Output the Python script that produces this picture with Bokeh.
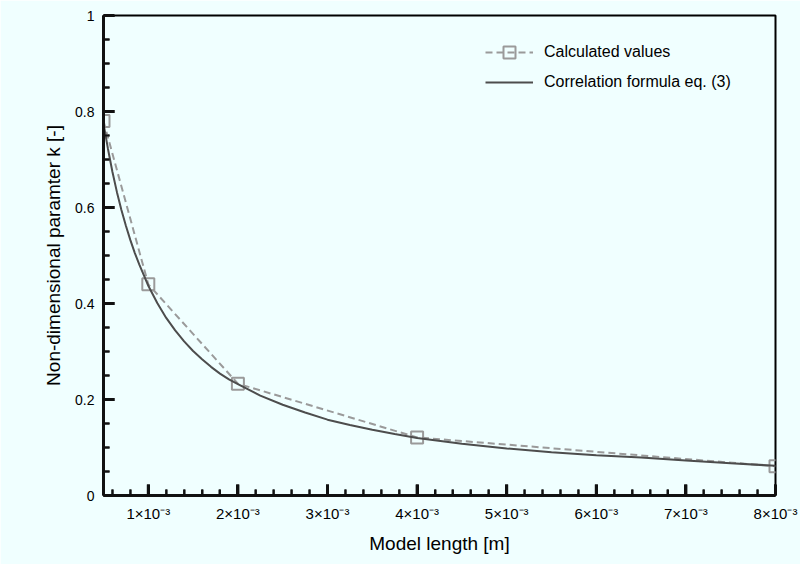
from bokeh.plotting import figure
from bokeh.models import Range1d, FixedTicker, Legend, LegendItem
from bokeh.embed import file_html
from bokeh.resources import INLINE

# Calculated values
calc_x = [0.5e-3, 1e-3, 2e-3, 4e-3, 8e-3]
calc_k = [0.78, 0.44, 0.233, 0.121, 0.061]

# Correlation formula eq. (3)
corr_x = [0.5e-3, 0.55e-3, 0.6e-3, 0.65e-3, 0.7e-3, 0.75e-3, 0.8e-3, 0.85e-3, 0.9e-3,
          0.95e-3, 1.0e-3, 1.1e-3, 1.2e-3, 1.3e-3, 1.4e-3, 1.5e-3, 1.6e-3, 1.7e-3,
          1.8e-3, 1.9e-3, 2.0e-3, 2.25e-3, 2.5e-3, 2.75e-3, 3.0e-3, 3.25e-3, 3.5e-3,
          3.75e-3, 4.0e-3, 4.5e-3, 5.0e-3, 5.5e-3, 6.0e-3, 6.5e-3, 7.0e-3, 7.5e-3, 8.0e-3]
corr_k = [0.775, 0.722, 0.674, 0.632, 0.595, 0.562, 0.532, 0.505, 0.481,
          0.459, 0.437, 0.401, 0.370, 0.344, 0.321, 0.301, 0.284, 0.268,
          0.254, 0.242, 0.232, 0.208, 0.189, 0.173, 0.158, 0.147, 0.137,
          0.128, 0.120, 0.108, 0.098, 0.090, 0.084, 0.079, 0.073, 0.067, 0.062]

x_ticks = [1e-3, 2e-3, 3e-3, 4e-3, 5e-3, 6e-3, 7e-3, 8e-3]
x_tick_labels = ["1×10⁻³", "2×10⁻³", "3×10⁻³", "4×10⁻³", "5×10⁻³", "6×10⁻³", "7×10⁻³", "8×10⁻³"]
x_minor = [i * 0.2e-3 for i in range(3, 40) if i % 5 != 0]
y_ticks = [0, 0.2, 0.4, 0.6, 0.8, 1.0]
y_tick_labels = ["0", "0.2", "0.4", "0.6", "0.8", "1"]
y_minor = [i * 0.05 for i in range(1, 20) if i % 4 != 0]

X0, X1 = 0.5e-3, 8e-3
Y0, Y1 = 0.0, 1.0

BG = "#f0ffff"
TICK = "#111111"
FRAME_W, FRAME_H = 672, 480

p = figure(width=800, height=564, output_backend="svg", toolbar_location=None,
           x_range=Range1d(X0, X1), y_range=Range1d(Y0, Y1),
           min_border_left=103, min_border_right=25, min_border_top=15, min_border_bottom=69,
           background_fill_color=BG, border_fill_color=BG)

p.xgrid.grid_line_color = None
p.ygrid.grid_line_color = None
p.outline_line_color = "black"
p.outline_line_width = 2

p.xaxis.ticker = FixedTicker(ticks=x_ticks, minor_ticks=x_minor)
p.yaxis.ticker = FixedTicker(ticks=y_ticks, minor_ticks=y_minor)
p.xaxis.major_label_overrides = {t: l for t, l in zip(x_ticks, x_tick_labels)}
p.yaxis.major_label_overrides = {t: l for t, l in zip(y_ticks, y_tick_labels)}

p.xaxis.major_tick_in = 11
p.yaxis.major_tick_in = 11
p.xaxis.major_tick_out = 0
p.yaxis.major_tick_out = 0
p.xaxis.minor_tick_in = 6
p.yaxis.minor_tick_in = 6
p.xaxis.minor_tick_out = 0
p.yaxis.minor_tick_out = 0
p.xaxis.major_tick_line_color = TICK
p.yaxis.major_tick_line_color = TICK
p.xaxis.minor_tick_line_color = TICK
p.yaxis.minor_tick_line_color = TICK
p.xaxis.major_tick_line_width = 3
p.yaxis.major_tick_line_width = 3
p.xaxis.minor_tick_line_width = 2
p.yaxis.minor_tick_line_width = 2
p.xaxis.axis_line_color = TICK
p.yaxis.axis_line_color = TICK
p.xaxis.axis_line_width = 3
p.yaxis.axis_line_width = 3

p.xaxis.major_label_text_font_size = "15px"
p.yaxis.major_label_text_font_size = "14px"
p.xaxis.major_label_text_color = "black"
p.yaxis.major_label_text_color = "black"
p.xaxis.major_label_standoff = 9
p.yaxis.major_label_standoff = 9
p.xaxis.axis_label = "Model length [m]"
p.yaxis.axis_label = "Non-dimensional paramter k [-]"
p.xaxis.axis_label_text_font_size = "19px"
p.yaxis.axis_label_text_font_size = "19px"
p.xaxis.axis_label_text_font_style = "normal"
p.yaxis.axis_label_text_font_style = "normal"
p.xaxis.axis_label_text_color = "black"
p.yaxis.axis_label_text_color = "black"
p.xaxis.axis_label_standoff = 8
p.yaxis.axis_label_standoff = 8

# inward tick marks also drawn as short line pieces from the frame edges
px_x = (X1 - X0) / FRAME_W
px_y = (Y1 - Y0) / FRAME_H
MAJ, MIN = 11, 6
p.multi_line(xs=[[t, t] for t in x_ticks], ys=[[Y0, Y0 + MAJ * px_y] for t in x_ticks],
             line_color=TICK, line_width=3)
p.multi_line(xs=[[t, t] for t in x_minor], ys=[[Y0, Y0 + MIN * px_y] for t in x_minor],
             line_color=TICK, line_width=2)
p.multi_line(xs=[[X0, X0 + MAJ * px_x] for t in y_ticks], ys=[[t, t] for t in y_ticks],
             line_color=TICK, line_width=3)
p.multi_line(xs=[[X0, X0 + MIN * px_x] for t in y_minor], ys=[[t, t] for t in y_minor],
             line_color=TICK, line_width=2)

calc_line = p.line(calc_x, calc_k, line_color="#9a9a9a", line_width=2, line_dash="7 4")
calc_pts = p.scatter(calc_x, calc_k, marker="square", size=12, fill_color=None,
                     line_color="#9a9a9a", line_width=2)
corr_line = p.line(corr_x, corr_k, line_color="#4d4d4d", line_width=2)

legend = Legend(items=[
    LegendItem(label="Calculated values", renderers=[calc_line, calc_pts]),
    LegendItem(label="Correlation formula eq. (3)", renderers=[corr_line]),
], location=(382, 398))
legend.background_fill_alpha = 0
legend.border_line_alpha = 0
legend.margin = 0
legend.padding = 0
legend.spacing = -5
legend.glyph_width = 48
legend.glyph_height = 30
legend.label_height = 30
legend.label_standoff = 11
legend.label_text_font_size = "16px"
legend.label_text_color = "black"
p.add_layout(legend, "center")

open("out.html", "w").write(file_html(p, INLINE))
